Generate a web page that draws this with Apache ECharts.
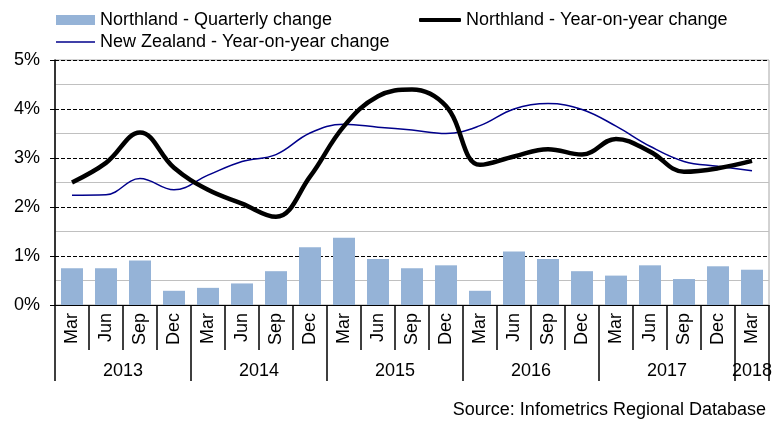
<!DOCTYPE html>
<html>
<head>
<meta charset="utf-8">
<script src="https://cdn.jsdelivr.net/npm/echarts@6/dist/echarts.min.js"></script>
<style>
  html, body { margin: 0; padding: 0; background: #fff; }
  #chart { width: 784px; height: 421px; }
</style>
</head>
<body>
<div id="chart"></div>
<script>
// quarters Mar 2013 .. Mar 2018
const months = ['Mar', 'Jun', 'Sep', 'Dec', 'Mar', 'Jun', 'Sep', 'Dec', 'Mar', 'Jun', 'Sep', 'Dec',
  'Mar', 'Jun', 'Sep', 'Dec', 'Mar', 'Jun', 'Sep', 'Dec', 'Mar']
const years = ['2013', '2014', '2015', '2016', '2017', '2018']
// where each year label sits / where the year separators go (in quarter units)
const yearLabelPos = [2, 6, 10, 14, 18, 20.5]
const yearTickPos = [0, 4, 8, 12, 16, 20, 21]

const quarterly = [0.75, 0.75, 0.91, 0.29, 0.35, 0.44, 0.69, 1.18, 1.37, 0.94, 0.75,
  0.81, 0.29, 1.09, 0.94, 0.69, 0.60, 0.81, 0.53, 0.79, 0.72]
const northlandYoy = [2.50, 2.90, 3.52, 2.80, 2.35, 2.07, 1.80, 2.62, 3.65, 4.26, 4.40,
  4.06, 2.86, 3.03, 3.18, 3.07, 3.39, 3.13, 2.72, 2.79, 2.94]
const nzYoy = [2.24, 2.25, 2.58, 2.35, 2.65, 2.93, 3.07, 3.51, 3.69, 3.63, 3.57,
  3.50, 3.66, 4.00, 4.11, 3.99, 3.65, 3.24, 2.93, 2.83, 2.74]

const font = "'Liberation Sans', Arial, sans-serif"

const chart = echarts.init(document.getElementById('chart'))

const legendText = { fontFamily: font, fontSize: 18, color: '#000' }

chart.setOption({
  backgroundColor: '#fff',
  animation: false,
  title: {
    text: 'Source: Infometrics Regional Database',
    right: 13,
    bottom: -3,
    textStyle: { fontFamily: font, fontSize: 18, fontWeight: 'normal', color: '#000' }
  },
  legend: [
    {
      data: [{ name: 'Northland - Quarterly change', icon: 'rect' }],
      left: 51, top: 6, itemWidth: 39, itemHeight: 10, textStyle: legendText
    },
    {
      data: [{ name: 'Northland - Year-on-year change', icon: 'roundRect' }],
      left: 414, top: 6, itemWidth: 42, itemHeight: 4, textStyle: legendText
    },
    {
      data: [{ name: 'New Zealand - Year-on-year change', icon: 'rect' }],
      left: 51, top: 28, itemWidth: 39, itemHeight: 1.5, textStyle: legendText
    }
  ],
  grid: {
    left: 55,
    right: 15,
    top: 60,
    bottom: 116,
    show: true,
    borderColor: '#a6a6a6',
    borderWidth: 1
  },
  xAxis: [
    {
      type: 'category',
      data: months,
      boundaryGap: true,
      axisLine: { lineStyle: { color: '#000', width: 1 } },
      axisTick: { show: true, interval: 0, length: 45, lineStyle: { color: '#000', width: 1.5 } },
      axisLabel: { interval: 0, rotate: 90, margin: 8, fontFamily: font, fontSize: 18, color: '#000' },
      splitLine: { show: false }
    },
    {
      type: 'value',
      min: 0,
      max: 21,
      position: 'bottom',
      offset: 45,
      axisLine: { show: false },
      axisTick: { show: true, customValues: yearTickPos, length: 31, lineStyle: { color: '#000', width: 1.5 } },
      axisLabel: {
        customValues: yearLabelPos,
        margin: 12,
        fontFamily: font,
        fontSize: 18,
        color: '#000',
        formatter: (v) => years[yearLabelPos.indexOf(v)] || ''
      },
      splitLine: { show: false }
    }
  ],
  yAxis: {
    type: 'value',
    min: 0,
    max: 5,
    interval: 1,
    axisLine: { show: true, lineStyle: { color: '#000', width: 1.5 } },
    axisTick: { show: true, length: 5, lineStyle: { color: '#000' } },
    axisLabel: { formatter: '{value}%', margin: 15, fontFamily: font, fontSize: 18, color: '#000' },
    splitLine: { show: true, lineStyle: { color: '#000', type: [4, 2], width: 1 } },
    minorTick: { show: false, splitNumber: 2 },
    minorSplitLine: { show: true, lineStyle: { color: '#c0c0c0', width: 1 } }
  },
  series: [
    {
      name: 'Northland - Quarterly change',
      type: 'bar',
      data: quarterly,
      barWidth: 22,
      itemStyle: { color: '#95b3d7' },
      z: 2
    },
    {
      name: 'Northland - Year-on-year change',
      type: 'line',
      data: northlandYoy,
      smooth: 0.4,
      symbol: 'none',
      lineStyle: { color: '#000', width: 4.5 },
      itemStyle: { color: '#000' },
      z: 4
    },
    {
      name: 'New Zealand - Year-on-year change',
      type: 'line',
      data: nzYoy,
      smooth: 0.4,
      symbol: 'none',
      lineStyle: { color: '#00008b', width: 1.5 },
      itemStyle: { color: '#00008b' },
      z: 3
    }
  ]
})
</script>
</body>
</html>
